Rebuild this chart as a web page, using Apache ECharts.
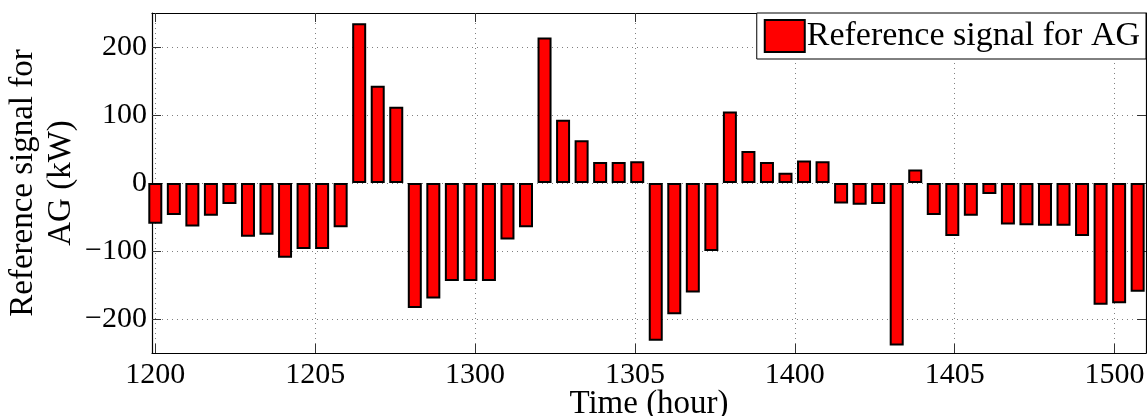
<!DOCTYPE html>
<html>
<head>
<meta charset="utf-8">
<script src="https://cdn.jsdelivr.net/npm/echarts@6/dist/echarts.min.js"></script>
<style>
html,body{margin:0;padding:0;background:#fff;}
#chart{width:1147px;height:416px;}
</style>
</head>
<body>
<div id="chart"></div>
<script>
// values, one bar per time step
var agSignal = [-60, -47, -64, -48, -31, -79, -76, -110, -97, -97, -65,
  235, 143, 112, -184, -170, -144, -144, -144, -83, -65,
  214, 93, 63, 31, 31, 32, -232, -193, -161, -100,
  105, 47, 31, 15, 33, 32, -30, -32, -31, -239, 20,
  -47, -78, -48, -16, -61, -62, -63, -63, -78, -179, -177, -160];
// tick positions in bar-index units and their labels
var xTickPos = [0, 8.625, 17.25, 25.875, 34.5, 43.125, 51.75];
var xTickLabels = ['1200', '1205', '1300', '1305', '1400', '1405', '1500'];
var yTicks = [-200, -100, 0, 100, 200];

var FONT = 'Liberation Serif';
var myChart = echarts.init(document.getElementById('chart'));

var barData = [];
for (var i = 0; i < agSignal.length; i++) {
  barData.push([i, agSignal[i]]);
}

function xLabel(v) {
  for (var k = 0; k < xTickPos.length; k++) {
    if (Math.abs(xTickPos[k] - v) < 0.01) return xTickLabels[k];
  }
  return '';
}
function yLabel(v) {
  return v < 0 ? '\u2212' + (-v) : String(v);
}

var gridLine = {show: true, lineStyle: {color: '#808080', type: [1, 4], width: 1}};
var frameLine = {show: true, onZero: false, lineStyle: {color: '#000', width: 1.2}};
var tickStyle = {inside: true, length: 9, lineStyle: {color: '#333', width: 1}};

var option = {
  animation: false,
  textStyle: {fontFamily: FONT},
  grid: {left: 152, right: 1, top: 13, bottom: 63, outerBoundsMode: 'none', containLabel: false},
  legend: {
    data: ['Reference signal for AG'],
    right: 1, top: 13,
    padding: [6, 6, 6, 7],
    borderColor: '#000', borderWidth: 1,
    backgroundColor: '#fff',
    icon: 'rect', itemWidth: 40, itemHeight: 32, itemGap: 0,
    itemStyle: {color: '#ff0000', borderColor: '#000', borderWidth: 2},
    textStyle: {fontFamily: FONT, fontSize: 34, color: '#000', padding: [0, 0, 0, -3]}
  },
  xAxis: [{
    type: 'value', min: -0.178, max: 53.45,
    name: 'Time (hour)', nameLocation: 'middle', nameGap: 35, nameMoveOverlap: false,
    nameTextStyle: {fontFamily: FONT, fontSize: 33, color: '#000', verticalAlign: 'top'},
    axisLine: frameLine,
    axisTick: Object.assign({customValues: xTickPos}, tickStyle),
    axisLabel: {customValues: xTickPos, formatter: xLabel, margin: 7,
      fontFamily: FONT, fontSize: 30, color: '#000'},
    splitLine: gridLine
  }, {
    type: 'value', position: 'top', min: -0.178, max: 53.45,
    axisLine: frameLine,
    axisTick: Object.assign({customValues: xTickPos}, tickStyle),
    axisLabel: {show: false},
    splitLine: {show: false}
  }],
  yAxis: [{
    type: 'value', min: -250, max: 250,
    name: 'Reference signal for\nAG (kW)', nameLocation: 'middle', nameGap: 72, nameMoveOverlap: false,
    nameRotate: 90,
    nameTextStyle: {fontFamily: FONT, fontSize: 33, color: '#000', lineHeight: 38},
    axisLine: frameLine,
    axisTick: Object.assign({customValues: yTicks}, tickStyle),
    axisLabel: {customValues: yTicks, formatter: yLabel, margin: 5,
      fontFamily: FONT, fontSize: 30, color: '#000'},
    splitLine: gridLine
  }, {
    type: 'value', position: 'right', min: -250, max: 250,
    axisLine: frameLine,
    axisTick: Object.assign({customValues: yTicks}, tickStyle),
    axisLabel: {show: false},
    splitLine: {show: false}
  }],
  series: [{
    name: 'Reference signal for AG',
    type: 'bar',
    xAxisIndex: 0, yAxisIndex: 0,
    barWidth: 14,
    data: barData,
    itemStyle: {color: '#ff0000', borderColor: '#000', borderWidth: 2}
  }]
};
myChart.setOption(option);
</script>
</body>
</html>
